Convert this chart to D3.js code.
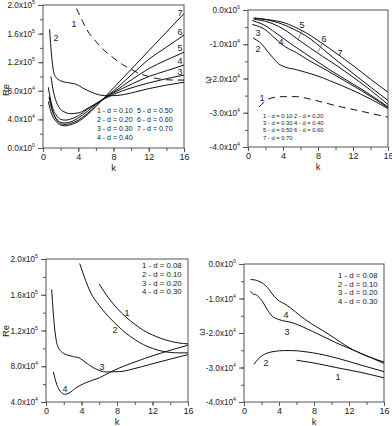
<!DOCTYPE html>
<html><head><meta charset="utf-8">
<script src="https://cdn.jsdelivr.net/npm/d3@7"></script>
<style>
html,body{margin:0;padding:0;background:#fff;}
svg{display:block;font-family:"Liberation Sans",Arial,sans-serif;}
</style></head>
<body><svg id="c" width="392" height="426"></svg>
<script>
// ---------- DATA ----------
const kTicks = [0, 4, 8, 12, 16];
const reTicksA = [0, 4e4, 8e4, 1.2e5, 1.6e5, 2e5];
const reTicksB = [4e4, 8e4, 1.2e5, 1.6e5, 2e5];
const omTicks = [-4e4, -3e4, -2e4, -1e4, 0];

const legendA = ["1 - d = 0.10", "2 - d = 0.20", "3 - d = 0.30", "4 - d = 0.40", "5 - d = 0.50", "6 - d = 0.60", "7 - d = 0.70"];
const legendB = ["1 - d = 0.08", "2 - d = 0.10", "3 - d = 0.20", "4 - d = 0.30"];

// Panel 1: Re vs k (d = 0.1 ... 0.7)
const p1k1 = [3.8, 4.5, 5, 6, 7, 8, 9, 10, 11, 12, 13, 14, 15, 16];
const p1re1 = [195e3, 177e3, 165e3, 149e3, 136e3, 126e3, 117e3, 110e3, 104e3, 100e3, 97e3, 95.5e3, 95e3, 95e3];
const p1k2 = [0.75, 0.9, 1.1, 1.4, 2, 3, 3.8, 4.5, 5.5, 6.5, 7.5, 8.5, 10, 12, 14, 16];
const p1re2 = [166e3, 140e3, 115e3, 100e3, 94e3, 91e3, 89e3, 84e3, 78e3, 74e3, 73e3, 73.5e3, 77e3, 83e3, 88e3, 92e3];
const p1k3 = [0.9, 1.2, 1.5, 2, 2.5, 3, 4, 5, 6, 7, 8, 10, 12, 14, 16];
const p1re3 = [100e3, 78e3, 65e3, 54e3, 50e3, 48e3, 49e3, 55e3, 62e3, 69e3, 75e3, 84e3, 91e3, 97e3, 102e3];
const p1k4 = [0.6, 1, 1.5, 2, 2.5, 3, 4, 5, 6, 7, 8, 10, 12, 14, 16];
const p1re4 = [85e3, 60e3, 46e3, 40e3, 39e3, 40e3, 45e3, 54e3, 62e3, 70e3, 77e3, 89e3, 100e3, 108e3, 116e3];
const p1k5 = [0.7, 1, 1.5, 2, 2.5, 3, 4, 5, 6, 7, 8, 10, 12, 14, 16];
const p1re5 = [72e3, 55e3, 41e3, 36e3, 35e3, 36e3, 42e3, 51e3, 61e3, 70e3, 78e3, 95e3, 111e3, 123e3, 134e3];
const p1k6 = [0.7, 1, 1.5, 2, 2.5, 3, 4, 5, 6, 7, 8, 10, 12, 14, 16];
const p1re6 = [70e3, 55e3, 40e3, 34e3, 33e3, 34e3, 39e3, 48e3, 59e3, 70e3, 80e3, 102e3, 124e3, 141e3, 158e3];
const p1k7 = [0.6, 0.8, 1, 1.5, 2, 2.5, 3, 4, 5, 6, 7, 8, 10, 12, 14, 16];
const p1re7 = [65e3, 55e3, 47e3, 37e3, 32e3, 31e3, 32e3, 37e3, 46e3, 58e3, 71e3, 84e3, 110e3, 136e3, 162e3, 188e3];

// Panel 2: omega vs k (d = 0.1 ... 0.7)
const p2k1 = [1.26, 1.8, 2.4, 3.1, 3.9, 5.5, 7.4, 10, 13, 16];
const p2w1 = [-28.3e3, -27e3, -25.9e3, -25.5e3, -25.3e3, -25.3e3, -26.2e3, -27.9e3, -29.6e3, -31.3e3];
const p2k2 = [0.6, 1.0, 1.6, 2.2, 2.8, 3.5, 4.3, 5.5, 6.6, 8, 9.3, 12, 14, 16];
const p2w2 = [-8.2e3, -8.8e3, -10e3, -12e3, -13.8e3, -15.7e3, -16.7e3, -17.4e3, -18.2e3, -19.3e3, -20.6e3, -23.5e3, -26e3, -28.8e3];
const p2k3 = [0.5, 1, 1.6, 2.2, 2.8, 3.5, 4.3, 5.5, 7, 9, 11, 13, 16];
const p2w3 = [-4.2e3, -4.6e3, -5.2e3, -6.2e3, -7.6e3, -9.2e3, -10.8e3, -12.4e3, -14.8e3, -17.6e3, -20.6e3, -23.6e3, -28.5e3];
const p2k4 = [0.5, 1, 2, 2.8, 4.1, 5.2, 6.6, 8, 9.3, 12, 14, 16];
const p2w4 = [-3.1e3, -3.5e3, -4.6e3, -6.0e3, -8.4e3, -10.4e3, -12.8e3, -15.2e3, -17.4e3, -21.6e3, -24.8e3, -28.3e3];
const p2k5 = [0.6, 1, 2, 3.5, 4.5, 5.6, 7, 8.5, 10, 12, 14, 16];
const p2w5 = [-2.6e3, -2.8e3, -3.3e3, -4.8e3, -6.3e3, -8.4e3, -10.9e3, -13.5e3, -16.0e3, -19.6e3, -23.4e3, -27.6e3];
const p2k6 = [0.7, 1, 2, 3, 4, 5.2, 6.6, 8, 9.3, 12, 14, 16];
const p2w6 = [-2.4e3, -2.5e3, -2.8e3, -3.4e3, -4.2e3, -5.6e3, -7.5e3, -10.2e3, -13.0e3, -18.5e3, -22.5e3, -26.4e3];
const p2k7 = [0.7, 1, 2, 3, 4, 5.2, 6.6, 8, 9.3, 12, 14, 16];
const p2w7 = [-2.3e3, -2.4e3, -2.7e3, -3.1e3, -3.6e3, -4.8e3, -6.6e3, -8.9e3, -11.2e3, -16.2e3, -20.2e3, -24.0e3];

// Panel 3: Re vs k (d = 0.08, 0.10, 0.20, 0.30)
const p3k1 = [6, 7, 8, 9, 10, 11, 12, 13, 14, 15, 16];
const p3re1 = [172e3, 157e3, 145e3, 135e3, 127e3, 120e3, 115e3, 111e3, 108e3, 106e3, 105e3];
const p3k2 = [3.8, 4.5, 5, 6, 7, 8, 9, 10, 11, 12, 13, 14, 15, 16];
const p3re2 = [195e3, 175e3, 163e3, 148e3, 136e3, 126e3, 117e3, 110e3, 104e3, 100e3, 97e3, 95.5e3, 95e3, 95e3];
const p3k3 = [0.64, 0.9, 1.3, 1.9, 3, 3.8, 4.5, 5.6, 6.8, 8.3, 9.8, 11.7, 14, 16];
const p3re3 = [166e3, 130e3, 103e3, 95e3, 91e3, 89e3, 84e3, 77e3, 73.6e3, 74e3, 77e3, 82e3, 88e3, 93e3];
const p3k4 = [0.83, 1.2, 1.6, 2.1, 2.6, 3.4, 4.5, 6, 7.5, 9.8, 12.4, 16];
const p3re4 = [73.6e3, 60e3, 52e3, 48.6e3, 50e3, 56e3, 61.7e3, 67e3, 74.8e3, 84e3, 93e3, 103.5e3];

// Panel 4: omega vs k (d = 0.08, 0.10, 0.20, 0.30)
const p4k1 = [6, 7.8, 10.5, 13.5, 16];
const p4w1 = [-27.9e3, -28.6e3, -30e3, -31.5e3, -33e3];
const p4k2 = [1.14, 1.6, 2.1, 2.8, 3.6, 4.5, 5.5, 6.6, 7.8, 10.5, 13.5, 16];
const p4w2 = [-29.1e3, -27.6e3, -26.5e3, -25.7e3, -25.3e3, -25.1e3, -25.1e3, -25.3e3, -25.7e3, -27.2e3, -29.4e3, -31.2e3];
const p4k3 = [0.7, 1.0, 1.14, 1.3, 1.6, 2.1, 2.6, 3.2, 4, 5.5, 7.8, 10.5, 13, 16];
const p4w3 = [-8e3, -8.5e3, -8.9e3, -8.8e3, -9.4e3, -10.8e3, -13e3, -15.1e3, -16.1e3, -17e3, -19.5e3, -22.8e3, -25.5e3, -28.8e3];
const p4k4 = [0.76, 1.2, 1.7, 2.2, 2.7, 3.2, 3.8, 4.8, 7, 9.7, 12.4, 16];
const p4w4 = [-4.5e3, -4.6e3, -5e3, -5.7e3, -6.9e3, -8.6e3, -10.3e3, -11.8e3, -16.1e3, -20.4e3, -24.8e3, -28.4e3];

// ---------- DRAW ----------
const svg = d3.select("#c");
const FS = 8.2;

function fmtParts(v) {
  if (v === 0) return ["0.0x10", "0"];
  const e = Math.floor(Math.log10(Math.abs(v)) + 1e-9);
  const m = v / Math.pow(10, e);
  return [m.toFixed(1) + "x10", String(e)];
}

function panel(cfg) {
  const x = d3.scaleLinear().domain([0, 16]).range([cfg.x0, cfg.x1]);
  const y = d3.scaleLinear().domain(cfg.ydom).range([cfg.y1, cfg.y0]);
  const g = svg.append("g");

  // frame
  g.append("rect").attr("x", cfg.x0).attr("y", cfg.y0)
    .attr("width", cfg.x1 - cfg.x0).attr("height", cfg.y1 - cfg.y0)
    .attr("fill", "none").attr("stroke", "#555").attr("stroke-width", 1);

  // x axis
  const xMinor = d3.range(0, 16.01, 2);
  const xa = g.append("g").attr("transform", `translate(0,${cfg.y1})`)
    .call(d3.axisBottom(x).tickValues(xMinor).tickSize(3).tickFormat(""));
  xa.select(".domain").remove();
  const xb = g.append("g").attr("transform", `translate(0,${cfg.y1})`)
    .call(d3.axisBottom(x).tickValues(kTicks).tickSize(4).tickPadding(2).tickFormat(d3.format("d")));
  xb.select(".domain").remove();
  xb.selectAll("text").attr("font-size", 9).attr("font-family", "Liberation Sans, Arial, sans-serif").attr("fill", "#222");
  g.selectAll(".tick line").attr("stroke", "#555");

  // y axis
  const step = cfg.yticks[1] - cfg.yticks[0];
  const yMinor = d3.range(cfg.ydom[0], cfg.ydom[1] + step / 4, step / 2);
  const ya = g.append("g").attr("transform", `translate(${cfg.x0},0)`)
    .call(d3.axisLeft(y).tickValues(yMinor).tickSize(3).tickFormat(""));
  ya.select(".domain").remove();
  const yb = g.append("g").attr("transform", `translate(${cfg.x0},0)`)
    .call(d3.axisLeft(y).tickValues(cfg.yticks).tickSize(5).tickFormat(""));
  yb.select(".domain").remove();
  g.selectAll(".tick line").attr("stroke", "#555");
  cfg.yticks.forEach(v => {
    const [a, b] = fmtParts(v);
    const t = g.append("text").attr("x", cfg.x0 - 8).attr("y", y(v) + 3)
      .attr("text-anchor", "end").attr("font-size", FS).attr("fill", "#222");
    t.append("tspan").text(a);
    t.append("tspan").attr("dy", -4).attr("font-size", 5.2).text(b);
  });

  // axis titles
  g.append("text").attr("x", (cfg.x0 + cfg.x1) / 2).attr("y", cfg.y1 + 23)
    .attr("text-anchor", "middle").attr("font-size", 9.5).attr("fill", "#222").text("k");
  g.append("text").attr("transform", `translate(${cfg.ylabX},${cfg.ylabY}) rotate(-90)`)
    .attr("text-anchor", "middle").attr("font-size", 9.5).attr("fill", "#222").text(cfg.ylabel);

  // curves
  const line = d3.line().x(d => x(d[0])).y(d => y(d[1])).curve(d3.curveMonotoneX);
  cfg.series.forEach(s => {
    const pts = s.k.map((kv, i) => [kv, s.v[i]]);
    g.append("path").attr("d", line(pts)).attr("fill", "none")
      .attr("stroke", "#111").attr("stroke-width", 1)
      .attr("stroke-dasharray", s.dash ? "7,5" : null);
  });

  // curve labels
  cfg.labels.forEach(l => {
    g.append("text").attr("x", l[0]).attr("y", l[1]).attr("font-size", cfg.labFS || 9)
      .attr("text-anchor", "middle").attr("fill", "#222").text(l[2]);
  });
  (cfg.leaders || []).forEach(l => {
    g.append("line").attr("x1", l[0]).attr("y1", l[1]).attr("x2", l[2]).attr("y2", l[3])
      .attr("stroke", "#555").attr("stroke-width", 0.7);
  });

  // legend
  cfg.legend.forEach(l => {
    g.append("text").attr("x", l[0]).attr("y", l[1]).attr("font-size", cfg.legFS)
      .attr("fill", "#222").text(l[2]);
  });
}

panel({
  x0: 43, x1: 184, y0: 5, y1: 148, ydom: [0, 2e5], yticks: reTicksA,
  ylabel: "Re", ylabX: 9, ylabY: 90, legFS: 7,
  series: [
    {k: p1k1, v: p1re1, dash: true}, {k: p1k2, v: p1re2}, {k: p1k3, v: p1re3},
    {k: p1k4, v: p1re4}, {k: p1k5, v: p1re5}, {k: p1k6, v: p1re6}, {k: p1k7, v: p1re7}
  ],
  labels: [[180, 16, "7"], [180, 35, "6"], [180, 51, "5"], [180, 64, "4"], [180, 75, "3"], [56, 41, "2"], [74, 27, "1"]],
  legend: [
    [97, 112.5, legendA[0]], [97, 121.5, legendA[1]], [97, 130.5, legendA[2]], [97, 139.5, legendA[3]],
    [137, 112.5, legendA[4]], [137, 121.5, legendA[5]], [137, 130.5, legendA[6]]
  ]
});

panel({
  x0: 248, x1: 388, y0: 10, y1: 147, ydom: [-4e4, 0], yticks: omTicks,
  ylabel: "ω", ylabX: 211, ylabY: 80, legFS: 5.8,
  series: [
    {k: p2k1, v: p2w1, dash: true}, {k: p2k2, v: p2w2}, {k: p2k3, v: p2w3},
    {k: p2k4, v: p2w4}, {k: p2k5, v: p2w5}, {k: p2k6, v: p2w6}, {k: p2k7, v: p2w7}
  ],
  labels: [[302, 28, "5"], [324, 42, "6"], [340, 56, "7"], [281, 45, "4"], [258, 36, "3"], [258, 52, "2"], [262, 101, "1"]],
  leaders: [[302, 30, 298, 40], [322, 44, 318, 52]],
  legend: [
    [263, 118, legendA[0]], [263, 125, legendA[2]], [263, 132.3, legendA[4]], [263, 139.5, legendA[6]],
    [294, 118, legendA[1]], [294, 125, legendA[3]], [294, 132.3, legendA[5]]
  ]
});

panel({
  x0: 46, x1: 188, y0: 259, y1: 402, ydom: [4e4, 2e5], yticks: reTicksB,
  ylabel: "Re", ylabX: 9, ylabY: 331, legFS: 7.8,
  series: [{k: p3k1, v: p3re1}, {k: p3k2, v: p3re2}, {k: p3k3, v: p3re3}, {k: p3k4, v: p3re4}],
  labels: [[127, 316, "1"], [115, 333, "2"], [102, 370, "3"], [65, 392, "4"]],
  legend: [[142, 268, legendB[0]], [142, 277, legendB[1]], [142, 285.5, legendB[2]], [142, 294, legendB[3]]]
});

panel({
  x0: 244, x1: 384, y0: 264, y1: 402, ydom: [-4e4, 0], yticks: omTicks,
  ylabel: "ω", ylabX: 205, ylabY: 332, legFS: 7.8,
  series: [{k: p4k1, v: p4w1}, {k: p4k2, v: p4w2}, {k: p4k3, v: p4w3}, {k: p4k4, v: p4w4}],
  labels: [[286, 318, "4"], [287, 335, "3"], [266, 366, "2"], [338, 380, "1"]],
  legend: [[338, 278, legendB[0]], [338, 286.5, legendB[1]], [338, 295, legendB[2]], [338, 303.5, legendB[3]]]
});
</script>
</body></html>
